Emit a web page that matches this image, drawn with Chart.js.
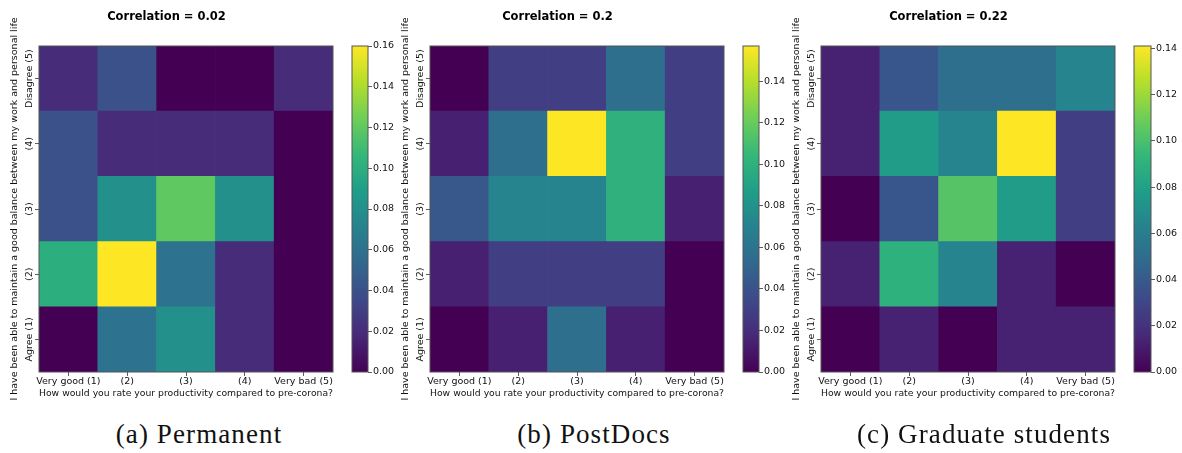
<!DOCTYPE html>
<html>
<head>
<meta charset="utf-8">
<script src="https://cdn.jsdelivr.net/npm/chart.js@4.4.1/dist/chart.umd.min.js"></script>
<style>
  body { margin: 0; background: #fff; width: 1182px; height: 453px; position: relative; overflow: hidden; }
  canvas { position: absolute; top: 0; }
  .caption { position: absolute; top: 421px; font-family: "Liberation Serif", serif; font-size: 27px; line-height: 27px;
             letter-spacing: 1.1px; color: #111; white-space: nowrap; transform: translateX(-50%); }
</style>
</head>
<body>
<script>
// axis categories
const xLabels = ["Very good (1)", "(2)", "(3)", "(4)", "Very bad (5)"];
const yLabels = ["Agree (1)", "(2)", "(3)", "(4)", "Disagree (5)"]; // bottom -> top
const xTitle = "How would you rate your productivity compared to pre-corona?";
const yTitle = "I have been able to maintain a good balance between my work and personal life";
const titles = ["Correlation = 0.02", "Correlation = 0.2", "Correlation = 0.22"];
const captions = ["(a) Permanent", "(b) PostDocs", "(c) Graduate students"];
const colorbarStep = 0.02;

// share of answers, one row per yLabels entry (Agree (1) first), one column per xLabels entry
const permanent = [
  [0.00, 0.06, 0.08, 0.02, 0.00],
  [0.10, 0.16, 0.06, 0.02, 0.00],
  [0.04, 0.08, 0.12, 0.08, 0.00],
  [0.04, 0.02, 0.02, 0.02, 0.00],
  [0.02, 0.04, 0.00, 0.00, 0.02],
];
const postdocs = [
  [0.000, 0.014, 0.057, 0.014, 0.000],
  [0.014, 0.029, 0.029, 0.029, 0.000],
  [0.043, 0.071, 0.071, 0.100, 0.014],
  [0.014, 0.057, 0.157, 0.100, 0.029],
  [0.000, 0.029, 0.029, 0.057, 0.029],
];
const graduates = [
  [0.000, 0.013, 0.000, 0.013, 0.013],
  [0.013, 0.090, 0.064, 0.013, 0.000],
  [0.000, 0.038, 0.103, 0.077, 0.026],
  [0.013, 0.077, 0.064, 0.141, 0.026],
  [0.013, 0.038, 0.051, 0.051, 0.064],
];
const panelsData = [permanent, postdocs, graduates];

// layout of the three panels (pixels)
const boxes = [
  { left: 39,  right: 333,  cbLeft: 352,  cbRight: 368,  titleX: 217, capX: 199 },
  { left: 430, right: 724,  cbLeft: 743,  cbRight: 759,  titleX: 608, capX: 594 },
  { left: 821, right: 1115, cbLeft: 1134, cbRight: 1151, titleX: 998, capX: 984 },
];
const plotTop = 46, plotBottom = 372, pageH = 410;
const FONT = '"DejaVu Sans", sans-serif';
const TXT = 9.5;
const INK = "#111";

// viridis colormap
const viridis = ["#440154", "#482878", "#3e4989", "#31688e", "#26828e",
                 "#1f9e89", "#35b779", "#6ece58", "#b5de2b", "#fde725"];
const hexToRgb = (h) => [1, 3, 5].map((i) => parseInt(h.slice(i, i + 2), 16));
const colorAt = (t) => {
  t = Math.min(1, Math.max(0, t));
  const p = t * (viridis.length - 1);
  const i = Math.min(viridis.length - 2, Math.floor(p));
  const f = p - i;
  const a = hexToRgb(viridis[i]), b = hexToRgb(viridis[i + 1]);
  const c = a.map((v, k) => Math.round(v + (b[k] - v) * f));
  return `rgb(${c[0]},${c[1]},${c[2]})`;
};

const makeCanvas = (left, width) => {
  const c = document.createElement("canvas");
  c.width = width; c.height = pageH;
  c.style.left = left + "px";
  c.style.width = width + "px"; c.style.height = pageH + "px";
  document.body.appendChild(c);
  return c;
};

// frame + rotated y tick labels
const heatExtras = {
  id: "heatExtras",
  afterDraw(chart) {
    const { ctx, chartArea: a, scales: { y } } = chart;
    ctx.save();
    ctx.strokeStyle = "#555";
    ctx.lineWidth = 1;
    ctx.strokeRect(a.left, a.top, a.right - a.left, a.bottom - a.top);
    ctx.font = TXT + "px " + FONT;
    ctx.fillStyle = INK;
    ctx.textAlign = "center";
    ctx.textBaseline = "middle";
    yLabels.forEach((lab, i) => {
      ctx.save();
      ctx.translate(a.left - 9.5, y.getPixelForValue(i + 0.5));
      ctx.rotate(-Math.PI / 2);
      ctx.fillText(lab, 0, 0);
      ctx.restore();
    });
    ctx.restore();
  },
};

const cbFrame = {
  id: "cbFrame",
  afterDraw(chart) {
    const { ctx, chartArea: a } = chart;
    ctx.save();
    ctx.strokeStyle = "#555";
    ctx.lineWidth = 1;
    ctx.strokeRect(a.left, a.top, a.right - a.left, a.bottom - a.top);
    ctx.restore();
  },
};

panelsData.forEach((values, p) => {
  const box = boxes[p];
  const vmax = Math.max(...values.flat());

  // heatmap: one stacked bar segment per cell
  const cl = box.left - 39;
  const W = 2 * (box.titleX - cl);
  new Chart(makeCanvas(cl, W), {
    type: "bar",
    data: {
      labels: xLabels,
      datasets: yLabels.map((lab, r) => ({
        label: lab,
        data: xLabels.map(() => 1),
        backgroundColor: values[r].map((v) => colorAt(v / vmax)),
        borderWidth: 0,
        barPercentage: 1,
        categoryPercentage: 1,
      })),
    },
    options: {
      responsive: false,
      animation: false,
      layout: { padding: { left: 0, top: 0, bottom: 0, right: W - (box.right - cl) } },
      plugins: {
        legend: { display: false },
        tooltip: { enabled: false },
        title: {
          display: true, text: titles[p], color: "#000",
          font: { family: FONT, size: 11.5, weight: "bold", lineHeight: 1.2 },
          padding: { top: 10, bottom: plotTop - 10 - 13.8 },
        },
      },
      scales: {
        x: {
          stacked: true,
          grid: { display: true, drawOnChartArea: false, offset: false, tickLength: 4, color: "#333", lineWidth: 0.8 },
          border: { display: false },
          ticks: { color: INK, font: { family: FONT, size: TXT }, padding: 0, maxRotation: 0, autoSkip: false },
          title: { display: true, text: xTitle, color: INK, font: { family: FONT, size: TXT }, padding: { top: 0, bottom: 10.3 } },
          afterFit: (s) => { s.height = pageH - plotBottom; },
        },
        y: {
          stacked: true, min: 0, max: yLabels.length,
          afterBuildTicks: (s) => { s.ticks = yLabels.map((_, i) => ({ value: i + 0.5 })); },
          grid: { display: true, drawOnChartArea: false, tickLength: 4, color: "#333", lineWidth: 0.8 },
          border: { display: false },
          ticks: { display: false },
          title: { display: true, text: yTitle, color: INK, font: { family: FONT, size: TXT }, padding: { top: 9.3, bottom: 0 } },
          afterFit: (s) => { s.width = 39; },
        },
      },
    },
    plugins: [heatExtras],
  });

  // colorbar
  const cbW = 50;
  const cbCanvasLeft = box.cbLeft - 2;
  new Chart(makeCanvas(cbCanvasLeft, cbW), {
    type: "bar",
    data: {
      labels: [""],
      datasets: [{
        data: [[0, vmax]],
        borderWidth: 0,
        barPercentage: 1,
        categoryPercentage: 1,
        backgroundColor: (ctx) => {
          const a = ctx.chart.chartArea;
          if (!a) return viridis[0];
          const g = ctx.chart.ctx.createLinearGradient(0, a.bottom, 0, a.top);
          viridis.forEach((c, i) => g.addColorStop(i / (viridis.length - 1), c));
          return g;
        },
      }],
    },
    options: {
      responsive: false,
      animation: false,
      layout: { padding: { left: 2, top: plotTop, bottom: pageH - plotBottom, right: 0 } },
      plugins: { legend: { display: false }, tooltip: { enabled: false }, title: { display: false } },
      scales: {
        x: { display: false },
        y: {
          position: "right", min: 0, max: vmax,
          grid: { display: true, drawOnChartArea: false, tickLength: 4, color: "#333", lineWidth: 0.8 },
          border: { display: false },
          ticks: {
            stepSize: colorbarStep, includeBounds: false, color: INK, padding: 1,
            font: { family: FONT, size: TXT },
            callback: (v) => v.toFixed(2),
          },
          afterFit: (s) => { s.width = cbW - 2 - (box.cbRight - box.cbLeft); },
        },
      },
    },
    plugins: [cbFrame],
  });

  const cap = document.createElement("div");
  cap.className = "caption";
  cap.style.left = box.capX + "px";
  cap.textContent = captions[p];
  document.body.appendChild(cap);
});
</script>
</body>
</html>
